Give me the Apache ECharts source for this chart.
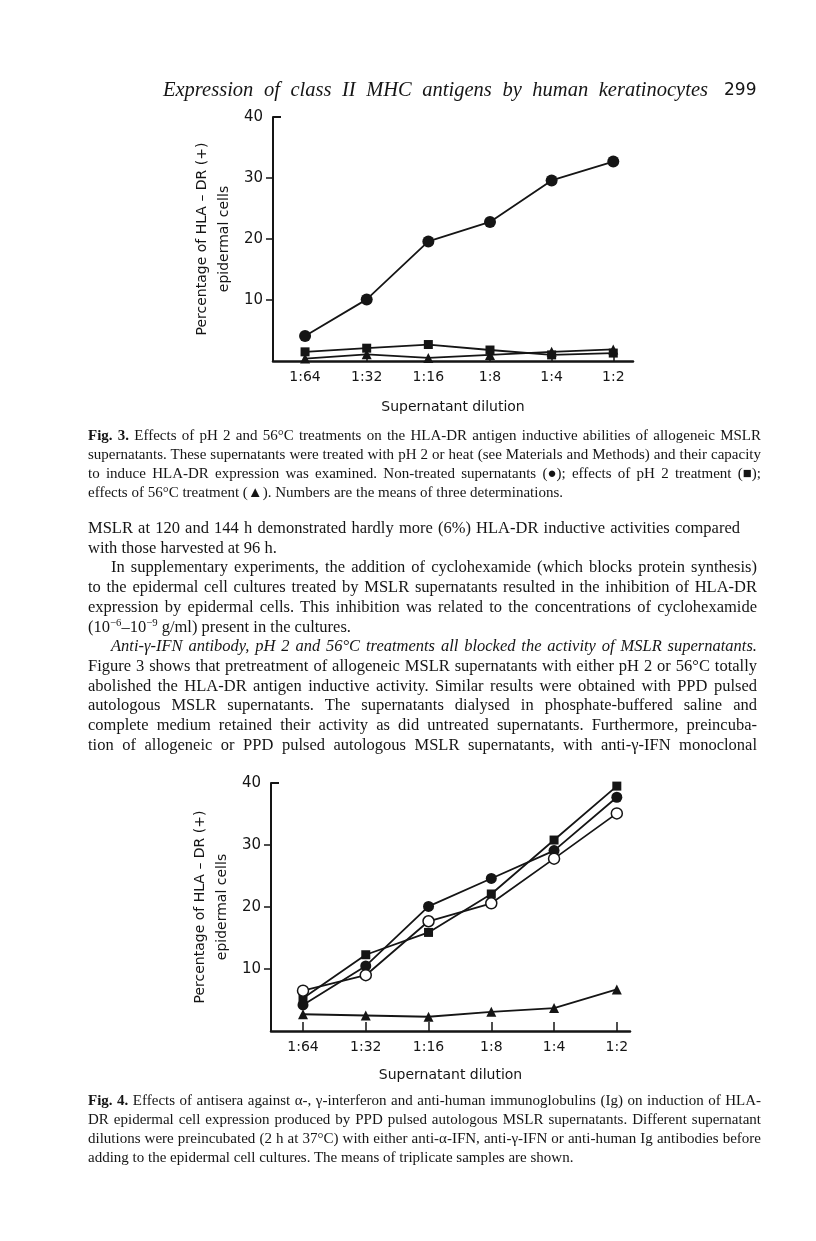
<!DOCTYPE html>
<html>
<head>
<meta charset="utf-8">
<script src="https://cdn.jsdelivr.net/npm/echarts@6/dist/echarts.min.js"></script>
<style>
  html, body { margin: 0; padding: 0; background: #fff; }
  #page { position: relative; width: 816px; height: 1241px; overflow: hidden; background: #fff; }
  #chart { position: absolute; left: 0; top: 0; width: 816px; height: 1241px; }
  .ln { position: absolute; white-space: nowrap; color: #151515; font-family: 'Liberation Serif', 'Times New Roman', serif; }
  .ln span { display: inline-block; transform-origin: 0 50%; }
  .ln sup { font-size: 65%; vertical-align: 0.55em; line-height: 0; }
</style>
</head>
<body>
<div id="page">
  <div id="chart"></div>
  <div id="text"></div>
</div>
<script>
// x categories and y ticks shared by both figures
const categories = ['1:64', '1:32', '1:16', '1:8', '1:4', '1:2']
const catTicks = [0, 1, 2, 3, 4, 5]
const yTicks = [10, 20, 30]
const yTopTick = [40]
const yLabels = [10, 20, 30, 40]

// Fig. 3
const fig3Untreated = [4.1, 10.1, 19.6, 22.8, 29.6, 32.7]  // ●
const fig3Ph2 = [1.5, 2.1, 2.7, 1.8, 1.0, 1.3]             // ■
const fig3Heat = [0.4, 1.1, 0.5, 1.0, 1.5, 1.9]            // ▲

// Fig. 4
const fig4Square = [5.3, 12.3, 15.9, 22.1, 30.8, 39.5]     // ■
const fig4Filled = [4.2, 10.5, 20.1, 24.6, 29.1, 37.7]     // ●
const fig4Open = [6.5, 9.0, 17.7, 20.6, 27.8, 35.1]        // ○
const fig4Triangle = [2.7, 2.5, 2.3, 3.1, 3.7, 6.7]        // ▲

const INK = '#151515'
const FONT = 'DejaVu Sans'

function toPoints(values) {
  return values.map((v, i) => [i, v])
}

function xAxisOf(gridIndex, min, max, tickLen, nameGap) {
  return {
    type: 'value',
    gridIndex: gridIndex,
    min: min,
    max: max,
    axisLine: { show: true, onZero: false, lineStyle: { color: INK, width: 2.5 } },
    axisTick: { show: true, inside: true, length: tickLen, customValues: catTicks, lineStyle: { color: INK, width: 1.5 } },
    axisLabel: {
      customValues: catTicks,
      formatter: v => categories[Math.round(v)],
      margin: 9,
      color: INK,
      fontFamily: FONT,
      fontSize: 14
    },
    splitLine: { show: false },
    name: 'Supernatant dilution',
    nameLocation: 'middle',
    nameGap: nameGap,
    nameTextStyle: { color: INK, fontFamily: FONT, fontSize: 14 }
  }
}

function yAxisOf(gridIndex) {
  return {
    type: 'value',
    gridIndex: gridIndex,
    position: 'left',
    min: 0,
    max: 40,
    interval: 10,
    axisLine: { show: true, onZero: false, lineStyle: { color: INK, width: 2 } },
    axisTick: { show: true, length: 7, customValues: yTicks, lineStyle: { color: INK, width: 1.5 } },
    axisLabel: { customValues: yLabels, margin: 10, color: INK, fontFamily: FONT, fontSize: 15 },
    splitLine: { show: false },
    name: 'Percentage of HLA \u2013 DR (+)\nepidermal cells',
    nameLocation: 'middle',
    nameRotate: 90,
    nameGap: 38,
    nameTextStyle: { color: INK, fontFamily: FONT, fontSize: 14, lineHeight: 22 }
  }
}

// the top tick at 40 points into the plot, like a corner
function yTopAxisOf(gridIndex) {
  return {
    type: 'value',
    gridIndex: gridIndex,
    position: 'left',
    min: 0,
    max: 40,
    interval: 10,
    axisLine: { show: false, onZero: false },
    axisTick: { show: true, inside: true, length: 8, customValues: yTopTick, lineStyle: { color: INK, width: 2 } },
    axisLabel: { show: false },
    splitLine: { show: false }
  }
}

function lineSeries(name, values, axisIndex, symbol, size, open) {
  return {
    name: name,
    type: 'line',
    xAxisIndex: axisIndex,
    yAxisIndex: axisIndex,
    data: toPoints(values),
    symbol: symbol,
    symbolSize: size,
    showSymbol: true,
    lineStyle: { color: INK, width: 1.8 },
    itemStyle: open
      ? { color: '#fff', borderColor: INK, borderWidth: 1.5 }
      : { color: INK, borderColor: INK, borderWidth: 0 },
    z: open ? 4 : 3,
    emphasis: { disabled: true }
  }
}

const chart = echarts.init(document.getElementById('chart'), null, { renderer: 'canvas' })
chart.setOption({
  animation: false,
  backgroundColor: 'transparent',
  grid: [
    { left: 273, top: 117, width: 360, height: 244 },
    { left: 271, top: 783, width: 359, height: 248 }
  ],
  xAxis: [
    xAxisOf(0, -0.52, 5.32, 5, 39),
    xAxisOf(1, -0.51, 5.21, 9, 37)
  ],
  yAxis: [yAxisOf(0), yAxisOf(1), yTopAxisOf(0), yTopAxisOf(1)],
  series: [
    lineSeries('56°C', fig3Heat, 0, 'triangle', 10, false),
    lineSeries('pH 2', fig3Ph2, 0, 'rect', 9, false),
    lineSeries('Non-treated', fig3Untreated, 0, 'circle', 12, false),
    lineSeries('▲', fig4Triangle, 1, 'triangle', 10, false),
    lineSeries('■', fig4Square, 1, 'rect', 9, false),
    lineSeries('●', fig4Filled, 1, 'circle', 11, false),
    lineSeries('○', fig4Open, 1, 'circle', 11, true)
  ]
})

// ---- page text ----
const header = [
  { html: '<i>Expression of class II MHC antigens by human keratinocytes</i>', x: 163, y: 89, w: 545, size: 20.5, lh: 24, justify: true },
  { html: '299', x: 724, y: 89, w: 38, size: 17, lh: 24, justify: false, sans: true }
]

const fig3Caption = [
  '<b>Fig. 3.</b> Effects of pH 2 and 56°C treatments on the HLA-DR antigen inductive abilities of allogeneic MSLR',
  'supernatants. These supernatants were treated with pH 2 or heat (see Materials and Methods) and their capacity',
  'to induce HLA-DR expression was examined. Non-treated supernatants (●); effects of pH 2 treatment (■);',
  'effects of 56°C treatment (▲). Numbers are the means of three determinations.'
]

const bodyLines = [
  'MSLR at 120 and 144 h demonstrated hardly more (6%) HLA-DR inductive activities compared',
  'with those harvested at 96 h.',
  'In supplementary experiments, the addition of cyclohexamide (which blocks protein synthesis)',
  'to the epidermal cell cultures treated by MSLR supernatants resulted in the inhibition of HLA-DR',
  'expression by epidermal cells. This inhibition was related to the concentrations of cyclohexamide',
  '(10<sup>\u22126</sup>\u201310<sup>\u22129</sup> g/ml) present in the cultures.',
  '<i>Anti-\u03b3-IFN antibody, pH 2 and 56°C treatments all blocked the activity of MSLR supernatants.</i>',
  'Figure 3 shows that pretreatment of allogeneic MSLR supernatants with either pH 2 or 56°C totally',
  'abolished the HLA-DR antigen inductive activity. Similar results were obtained with PPD pulsed',
  'autologous MSLR supernatants. The supernatants dialysed in phosphate-buffered saline and',
  'complete medium retained their activity as did untreated supernatants. Furthermore, preincuba-',
  'tion of allogeneic or PPD pulsed autologous MSLR supernatants, with anti-\u03b3-IFN monoclonal'
]
const bodyIndent = [2, 6]
const bodyParaEnd = [1, 5]

const fig4Caption = [
  '<b>Fig. 4.</b> Effects of antisera against \u03b1-, \u03b3-interferon and anti-human immunoglobulins (Ig) on induction of HLA-',
  'DR epidermal cell expression produced by PPD pulsed autologous MSLR supernatants. Different supernatant',
  'dilutions were preincubated (2 h at 37°C) with either anti-\u03b1-IFN, anti-\u03b3-IFN or anti-human Ig antibodies before',
  'adding to the epidermal cell cultures. The means of triplicate samples are shown.'
]

const LEFT = 88
const lines = header.slice()
fig3Caption.forEach((t, i) => {
  lines.push({ html: t, x: LEFT, y: 435 + i * 18.9, w: 673, size: 15, lh: 18, justify: i < 3 })
})
bodyLines.forEach((t, i) => {
  const ind = bodyIndent.includes(i) ? 23 : 0
  let w = 669 - ind
  if (i === 0) w = 652
  lines.push({ html: t, x: LEFT + ind, y: 528 + i * 19.7, w: w, size: 16.5, lh: 20, justify: !bodyParaEnd.includes(i) })
})
fig4Caption.forEach((t, i) => {
  lines.push({ html: t, x: LEFT, y: 1100 + i * 18.9, w: 673, size: 15, lh: 18, justify: i < 3 })
})

const textBox = document.getElementById('text')
lines.forEach(l => {
  const div = document.createElement('div')
  div.className = 'ln'
  div.style.left = l.x + 'px'
  div.style.top = (l.y - l.lh / 2) + 'px'
  div.style.height = l.lh + 'px'
  div.style.lineHeight = l.lh + 'px'
  div.style.fontSize = l.size + 'px'
  if (l.sans) div.style.fontFamily = FONT
  const span = document.createElement('span')
  span.innerHTML = l.html
  div.appendChild(span)
  textBox.appendChild(div)
  const natural = span.getBoundingClientRect().width
  const spaces = (span.textContent.match(/ /g) || []).length
  if (natural > l.w) {
    span.style.transform = 'scaleX(' + (l.w / natural) + ')'
  } else if (l.justify && spaces > 0) {
    span.style.wordSpacing = ((l.w - natural) / spaces) + 'px'
  }
})
</script>
</body>
</html>
